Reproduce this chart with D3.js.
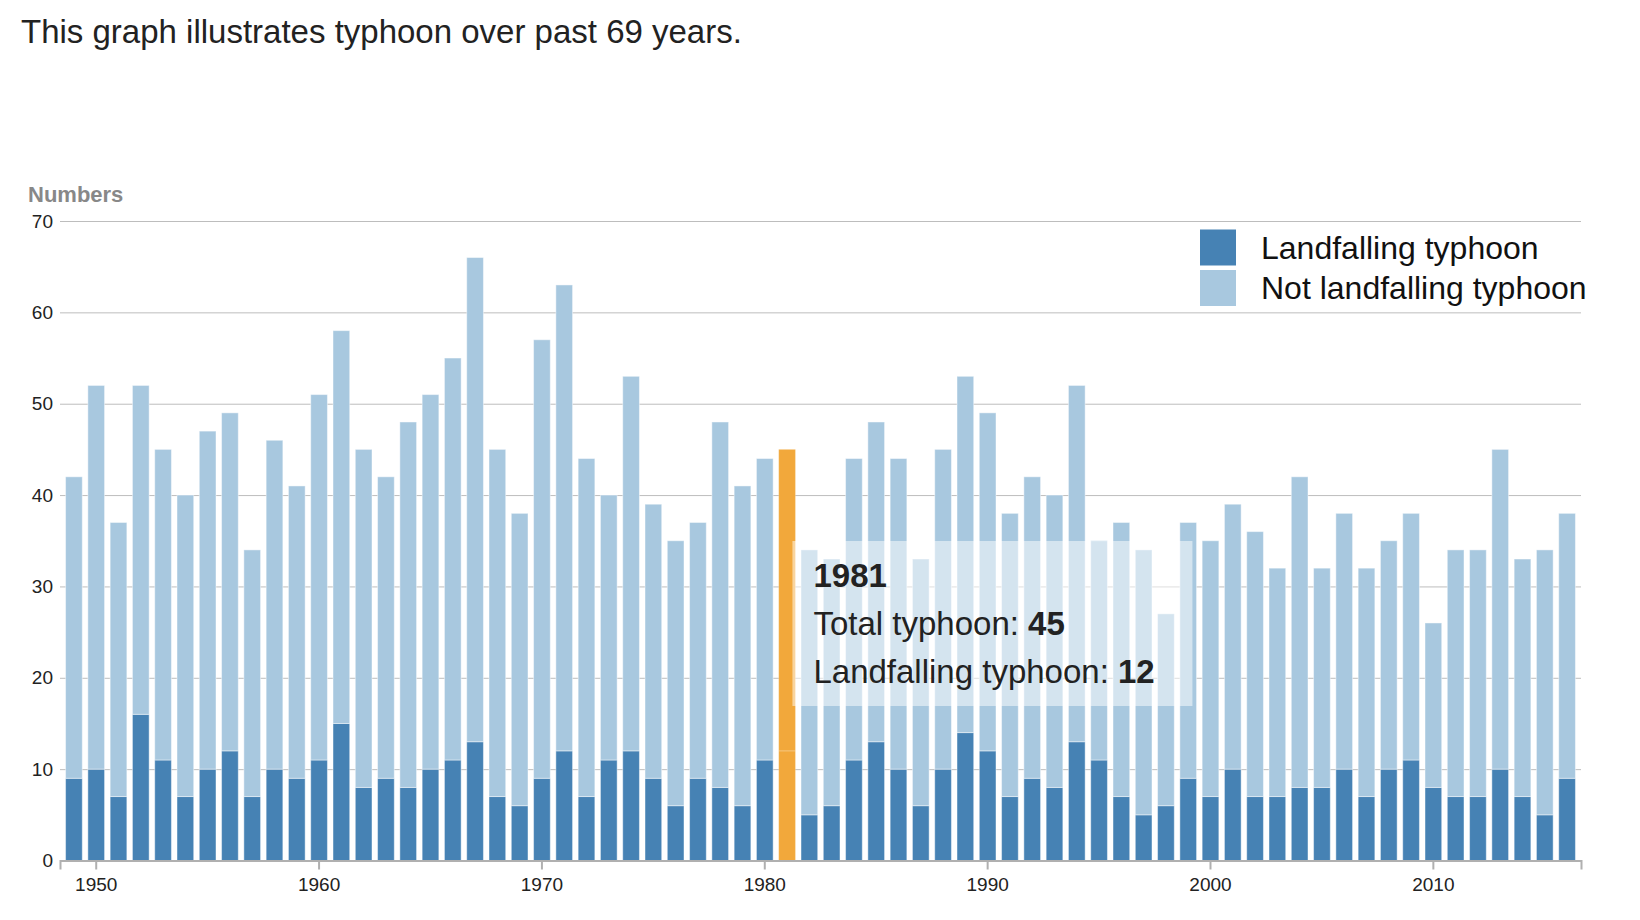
<!DOCTYPE html>
<html>
<head>
<meta charset="utf-8">
<script src="https://cdn.jsdelivr.net/npm/d3@7"></script>
<style>
  body { margin: 0; background: #fff; font-family: "Liberation Sans", Arial, Helvetica, sans-serif; }
  .grid line { stroke: #bdbdbd; stroke-width: 1; }
  .grid path { display: none; }
  .xaxis path, .xaxis line { stroke: #b0b0b0; stroke-width: 2; }
  .tick text { fill: #222; }
</style>
</head>
<body>
<div id="chart"></div>
<script>
// typhoon counts per year
var years = [1949,1950,1951,1952,1953,1954,1955,1956,1957,1958,
             1959,1960,1961,1962,1963,1964,1965,1966,1967,1968,
             1969,1970,1971,1972,1973,1974,1975,1976,1977,1978,
             1979,1980,1981,1982,1983,1984,1985,1986,1987,1988,
             1989,1990,1991,1992,1993,1994,1995,1996,1997,1998,
             1999,2000,2001,2002,2003,2004,2005,2006,2007,2008,
             2009,2010,2011,2012,2013,2014,2015,2016];
var totalTyphoon = [42,52,37,52,45,40,47,49,34,46,
                    41,51,58,45,42,48,51,55,66,45,
                    38,57,63,44,40,53,39,35,37,48,
                    41,44,45,34,33,44,48,44,33,45,
                    53,49,38,42,40,52,35,37,34,27,
                    37,35,39,36,32,42,32,38,32,35,
                    38,26,34,34,45,33,34,38];
var landfalling = [9,10,7,16,11,7,10,12,7,10,
                   9,11,15,8,9,8,10,11,13,7,
                   6,9,12,7,11,12,9,6,9,8,
                   6,11,12,5,6,11,13,10,6,10,
                   14,12,7,9,8,13,11,7,5,6,
                   9,7,10,7,7,8,8,10,7,10,
                   11,8,7,7,10,7,5,9];
var yTicks = [0,10,20,30,40,50,60,70];
var xTickYears = [1950,1960,1970,1980,1990,2000,2010];
var legendLabels = ["Landfalling typhoon", "Not landfalling typhoon"];
var highlightYear = 1981;

var landColor = "#4682b4",
    notLandColor = "#a8c8df",
    highlightColor = "#f2a83b";

var data = years.map(function(yr, i) {
  return {year: yr, total: totalTyphoon[i], land: landfalling[i]};
});

var width = 1640, height = 920;
var plotLeft = 60, plotRight = 1581, plotTop = 221, plotBottom = 860.5;

var svg = d3.select("#chart").append("svg")
  .attr("width", width)
  .attr("height", height);

// title
svg.append("text")
  .text("This graph illustrates typhoon over past 69 years.")
  .attr("x", 21)
  .attr("y", 43)
  .style("font-size", "33px")
  .style("fill", "#222");

var x = d3.scaleBand()
  .domain(years)
  .range([plotLeft, plotRight])
  .paddingInner(0.25)
  .paddingOuter(0.25);

var y = d3.scaleLinear()
  .domain([0, 70])
  .range([plotBottom, plotTop]);

// gridlines + y labels
svg.append("g")
  .attr("class", "grid")
  .attr("transform", "translate(" + plotLeft + ",0)")
  .call(d3.axisLeft(y).tickValues(yTicks).tickSize(-(plotRight - plotLeft)).tickPadding(7))
  .selectAll("text")
  .style("font-size", "19px");

svg.append("text")
  .text("Numbers")
  .attr("x", 28)
  .attr("y", 202)
  .style("font-size", "22px")
  .style("font-weight", "bold")
  .style("fill", "#888");

// bars
var bars = svg.append("g").selectAll("g")
  .data(data)
  .enter()
  .append("g");

bars.append("rect")
  .attr("x", function(d) { return x(d.year); })
  .attr("width", x.bandwidth())
  .attr("y", function(d) { return y(d.land); })
  .attr("height", function(d) { return y(0) - y(d.land); })
  .style("fill", function(d) { return d.year == highlightYear ? highlightColor : landColor; })
  .style("stroke", "#fff")
  .style("stroke-opacity", function(d) { return d.year == highlightYear ? 0.2 : 0.45; });

bars.append("rect")
  .attr("x", function(d) { return x(d.year); })
  .attr("width", x.bandwidth())
  .attr("y", function(d) { return y(d.total); })
  .attr("height", function(d) { return y(d.land) - y(d.total); })
  .style("fill", function(d) { return d.year == highlightYear ? highlightColor : notLandColor; })
  .style("stroke", "#fff")
  .style("stroke-opacity", function(d) { return d.year == highlightYear ? 0.2 : 0.45; });

// x axis
var xAxis = svg.append("g")
  .attr("class", "xaxis")
  .attr("transform", "translate(0," + plotBottom + ")")
  .call(d3.axisBottom(x).tickValues(xTickYears).tickSize(9).tickSizeOuter(9).tickPadding(8));
xAxis.selectAll("text").style("font-size", "19px");

// legend
var legend = svg.append("g").selectAll("g")
  .data(legendLabels)
  .enter()
  .append("g")
  .attr("transform", function(d, i) { return "translate(1200," + (229.5 + i * 40.5) + ")"; });

legend.append("rect")
  .attr("width", 36)
  .attr("height", 36)
  .style("fill", function(d, i) { return i == 0 ? landColor : notLandColor; });

legend.append("text")
  .text(function(d) { return d; })
  .attr("x", 61)
  .attr("y", 18)
  .attr("dy", "0.35em")
  .style("font-size", "32px")
  .style("fill", "#111");

// tooltip for the highlighted year
var hd = data.filter(function(d) { return d.year == highlightYear; })[0];
var tip = svg.append("g")
  .attr("transform", "translate(" + (x(hd.year) + x.bandwidth() - 3) + ",541)");

tip.append("rect")
  .attr("width", 400)
  .attr("height", 165)
  .style("fill", "#fff")
  .style("fill-opacity", 0.5);

tip.append("text")
  .text(hd.year)
  .attr("x", 21)
  .attr("y", 46)
  .style("font-size", "33px")
  .style("font-weight", "bold")
  .style("fill", "#222");

var tipLines = [["Total typhoon: ", hd.total], ["Landfalling typhoon: ", hd.land]];
tip.selectAll("text.line")
  .data(tipLines)
  .enter()
  .append("text")
  .attr("class", "line")
  .attr("x", 21)
  .attr("y", function(d, i) { return 94 + i * 48; })
  .style("font-size", "33px")
  .style("fill", "#222")
  .each(function(d) {
    var t = d3.select(this);
    t.append("tspan").text(d[0]);
    t.append("tspan").text(d[1]).style("font-weight", "bold");
  });
</script>
</body>
</html>
